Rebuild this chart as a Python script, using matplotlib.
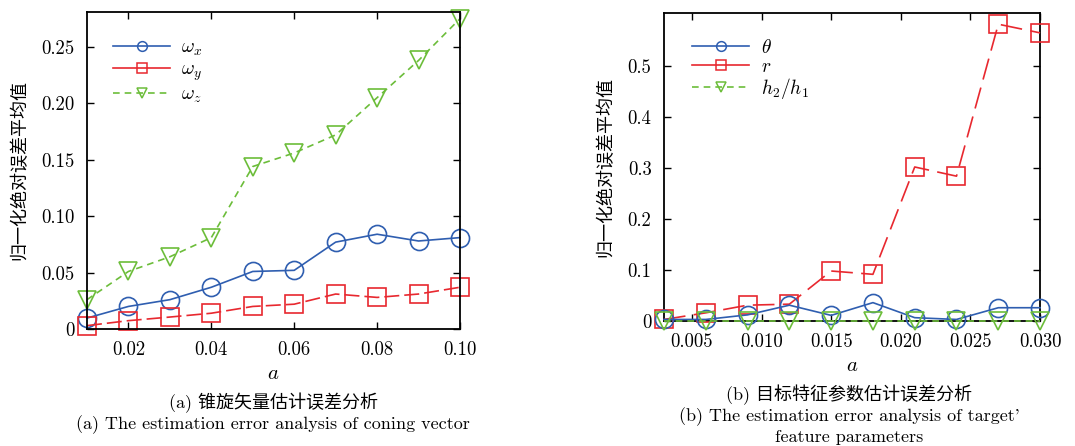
import numpy as np
import matplotlib
matplotlib.use("Agg")
import matplotlib.pyplot as plt
from matplotlib.lines import Line2D

plt.rcParams.update({
    "font.family": ["cmr10", "Noto Sans CJK SC"],
    "mathtext.fontset": "cm",
    "axes.unicode_minus": False,
    "axes.linewidth": 1.3,
    "xtick.direction": "in", "ytick.direction": "in",
    "xtick.top": True, "ytick.right": True,
    "xtick.major.size": 5, "ytick.major.size": 5,
    "xtick.major.width": 1.0, "ytick.major.width": 1.0,
})
BLUE, RED, GREEN = "#2f5eb0", "#e8282f", "#6cbd3a"
CN = ["cmr10", "Noto Sans CJK SC"]

# ---- (a) coning vector ----
a_left = [0.01, 0.02, 0.03, 0.04, 0.05, 0.06, 0.07, 0.08, 0.09, 0.10]
wx = [0.0097, 0.020, 0.026, 0.037, 0.051, 0.052, 0.077, 0.084, 0.078, 0.081]
wy = [0.003, 0.0074, 0.0106, 0.014, 0.020, 0.022, 0.031, 0.028, 0.031, 0.037]
wz = [0.026, 0.051, 0.064, 0.081, 0.144, 0.156, 0.172, 0.205, 0.238, 0.275]
xt_left = [0.02, 0.04, 0.06, 0.08, 0.10]
xt_left_lbl = ["0.02", "0.04", "0.06", "0.08", "0.10"]
yt_left = [0, 0.05, 0.10, 0.15, 0.20, 0.25]
yt_left_lbl = ["0", "0.05", "0.10", "0.15", "0.20", "0.25"]

# ---- (b) target feature parameters ----
a_right = [0.003, 0.006, 0.009, 0.012, 0.015, 0.018, 0.021, 0.024, 0.027, 0.030]
theta = [0.003, 0.003, 0.012, 0.031, 0.011, 0.036, 0.0065, 0.003, 0.026, 0.026]
r = [0.003, 0.016, 0.031, 0.033, 0.098, 0.0915, 0.302, 0.284, 0.582, 0.565]
h21 = [0, 0, 0, 0, 0, 0, 0, 0, 0, 0]
xt_right = [0.005, 0.010, 0.015, 0.020, 0.025, 0.030]
xt_right_lbl = ["0.005", "0.010", "0.015", "0.020", "0.025", "0.030"]
yt_right = [0, 0.1, 0.2, 0.3, 0.4, 0.5]
yt_right_lbl = ["0", "0.1", "0.2", "0.3", "0.4", "0.5"]

YLABEL = "归一化绝对误差平均值"

fig = plt.figure(figsize=(10.75, 4.46), dpi=100)
ax1 = fig.add_axes([0.0809, 0.2623, 0.347, 0.711])
ax2 = fig.add_axes([0.6177, 0.2803, 0.3498, 0.6906])

mk = dict(ms=13, mfc="none", mew=1.2, lw=1.2, clip_on=False)
ax1.plot(a_left, wx, "-o", color=BLUE, **mk)
ax1.plot(a_left, wy, "-s", color=RED, dashes=(9, 3), **mk)
ax1.plot(a_left, wz, "-v", color=GREEN, dashes=(4, 3), **mk)
ax1.set_xlim(0.01, 0.10); ax1.set_ylim(0, 0.281)
ax1.set_xticks(xt_left); ax1.set_xticklabels(xt_left_lbl)
ax1.set_yticks(yt_left); ax1.set_yticklabels(yt_left_lbl)

ax2.plot(a_right, theta, "-o", color=BLUE, zorder=4, **mk)
ax2.plot(a_right, r, "-s", color=RED, dashes=(13, 5), zorder=3, **mk)
ax2.plot(a_right, h21, "-v", color=GREEN, dashes=(4, 3), zorder=5, **mk)
ax2.set_xlim(0.003, 0.030); ax2.set_ylim(0, 0.604)
ax2.set_xticks(xt_right); ax2.set_xticklabels(xt_right_lbl)
ax2.set_yticks(yt_right); ax2.set_yticklabels(yt_right_lbl)

def handles(labels):
    hk = dict(ms=7, mfc="none", mew=1.1, lw=1.2)
    return [Line2D([], [], color=BLUE, marker="o", label=labels[0], **hk),
            Line2D([], [], color=RED, marker="s", label=labels[1], **hk),
            Line2D([], [], color=GREEN, marker="v", dashes=(4, 3), label=labels[2], **hk)]

for ax, labels, x0, sp in [(ax1, [r"$\omega_x$", r"$\omega_y$", r"$\omega_z$"], 0.05, 0.15),
                           (ax2, [r"$\theta$", r"$r$", r"$h_2/h_1$"], 0.055, 0.02)]:
    ax.tick_params(labelsize=13.5, pad=9)
    ax.set_xlabel("$a$", fontsize=15, labelpad=4)
    ax.set_ylabel(YLABEL, family=CN, fontsize=13, labelpad=10)
    ax.legend(handles=handles(labels), loc="upper left", frameon=False, fontsize=14,
              handlelength=2.9, bbox_to_anchor=(x0, 0.94), borderaxespad=0,
              labelspacing=sp, handletextpad=0.6)

fig.text(0.254, 0.098, "(a) 锥旋矢量估计误差分析", ha="center", va="center", family=CN, fontsize=13)
fig.text(0.254, 0.047, "(a) The estimation error analysis of coning vector", ha="center", va="center", fontsize=13)
fig.text(0.790, 0.114, "(b) 目标特征参数估计误差分析", ha="center", va="center", family=CN, fontsize=13)
fig.text(0.790, 0.065, "(b) The estimation error analysis of target'", ha="center", va="center", fontsize=13)
fig.text(0.790, 0.020, "feature parameters", ha="center", va="center", fontsize=13)

fig.savefig("out.png", dpi=100)
